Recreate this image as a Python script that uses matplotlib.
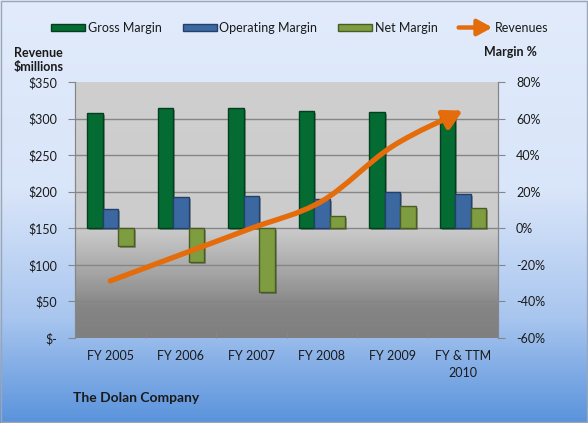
import matplotlib
matplotlib.use("Agg")
from matplotlib import pyplot as plt
from matplotlib.colors import LinearSegmentedColormap
from matplotlib.patches import Patch, FancyArrowPatch, Rectangle
from matplotlib.legend_handler import HandlerBase
from matplotlib.lines import Line2D
from matplotlib.path import Path
import matplotlib.patheffects as pe
import numpy as np

plt.rcParams['font.family'] = ['Lato', 'DejaVu Sans']

categories = ['FY 2005', 'FY 2006', 'FY 2007', 'FY 2008', 'FY 2009', 'FY & TTM\n2010']
gross_margin = [63, 66, 66, 64, 63.5, 61]
operating_margin = [10.5, 17, 17.5, 16, 20, 19]
net_margin = [-9.5, -18.5, -35, 7, 12, 11]
revenues = [78, 114, 150, 187, 262, 311]

margin_ticks = [-60, -40, -20, 0, 20, 40, 60, 80]
margin_labels = ['-60%', '-40%', '-20%', '0%', '20%', '40%', '60%', '80%']
rev_ticks = [0, 50, 100, 150, 200, 250, 300, 350]
rev_labels = ['$-', '$50', '$100', '$150', '$200', '$250', '$300', '$350']

GREEN, GREEN_E = '#046B32', '#033F1E'
BLUE, BLUE_E = '#3B68A1', '#22406A'
OLIVE, OLIVE_E = '#7E9C40', '#4A5C25'
ORANGE = '#E46C0A'
GRID = '#868686'
TXT = '#1a1a1a'


class ArrowHandler(HandlerBase):
    def create_artists(self, legend, orig_handle, xdescent, ydescent,
                       width, height, fontsize, trans):
        y = height / 2 - ydescent
        a = FancyArrowPatch((-xdescent, y), (width - xdescent, y),
                            arrowstyle='-|>,head_length=0.55,head_width=0.3',
                            mutation_scale=16, color=ORANGE, lw=3.2,
                            shrinkA=0, shrinkB=0)
        a.set_transform(trans)
        return [a]


def smooth_path(xs, ys):
    # Excel-like smoothed line: cubic Bezier through every point
    pts = np.column_stack([xs, ys]).astype(float)
    n = len(pts)
    verts = [pts[0]]
    codes = [Path.MOVETO]
    for i in range(n - 1):
        p_prev = pts[max(i - 1, 0)]
        p_next2 = pts[min(i + 2, n - 1)]
        c1 = pts[i] + (pts[i + 1] - p_prev) / 6
        c2 = pts[i + 1] - (p_next2 - pts[i]) / 6
        verts += [c1, c2, pts[i + 1]]
        codes += [Path.CURVE4] * 3
    return Path(verts, codes)


fig = plt.figure(figsize=(5.88, 4.23), dpi=100)

# figure background gradient
bg = fig.add_axes([0, 0, 1, 1], zorder=-10)
bg_cmap = LinearSegmentedColormap.from_list(
    'bg', [(0, '#E1EBFB'), (0.45, '#D9E5F9'), (0.75, '#A9C6EF'), (1.0, '#5A93DC')])
bg.imshow(np.linspace(0, 1, 256).reshape(-1, 1), aspect='auto', cmap=bg_cmap,
          extent=[0, 1, 0, 1], origin='upper')
bg.set_axis_off()
fig.patches.append(Rectangle((0.002, 0.002), 0.996, 0.996, transform=fig.transFigure,
                             fill=False, edgecolor='#9AA5B5', lw=1))

ax = fig.add_axes([0.1276, 0.201, 0.7194, 0.605])
ax2 = ax.twinx()

# plot area gradient
pa_cmap = LinearSegmentedColormap.from_list(
    'pa', [(0, '#CFCFCF'), (0.57, '#CCCCCC'), (0.72, '#ABABAB'), (0.88, '#858585'), (1.0, '#7F7F7F')])
ax.imshow(np.linspace(0, 1, 256).reshape(-1, 1), aspect='auto', cmap=pa_cmap,
          extent=[0, 1, 0, 1], origin='upper', transform=ax.transAxes, zorder=0)

x = np.arange(len(categories))
w = 0.22
shadow = [pe.withSimplePatchShadow(offset=(1.5, -1.5), alpha=0.35)]
ax.bar(x - w, gross_margin, w, color=GREEN, edgecolor=GREEN_E, lw=1, zorder=2, path_effects=shadow)
ax.bar(x, operating_margin, w, color=BLUE, edgecolor=BLUE_E, lw=1, zorder=2, path_effects=shadow)
ax.bar(x + w, net_margin, w, color=OLIVE, edgecolor=OLIVE_E, lw=1, zorder=2, path_effects=shadow)

ax.set_xlim(-0.5, len(categories) - 0.5)
ax.set_ylim(-60, 80)
ax.set_yticks(margin_ticks)
ax.set_yticklabels(margin_labels)
ax.yaxis.tick_right()
for t in margin_ticks[1:-1]:
    ax.axhline(t, color=GRID, lw=1, zorder=1)

ax.set_xticks(x)
ax.set_xticklabels(categories, linespacing=1.45)
ax.set_xticks(np.arange(-0.5, len(categories)), minor=True)
ax.tick_params(axis='x', which='major', length=0, pad=9, labelsize=9, colors=TXT)
ax.tick_params(axis='x', which='minor', length=4, color=GRID, direction='in')
ax.tick_params(axis='y', length=5, color=GRID, labelsize=9, colors=TXT, pad=8)

ax2.set_ylim(0, 350)
rev_line = FancyArrowPatch(path=smooth_path(x, revenues),
                           arrowstyle='-|>,head_length=0.55,head_width=0.3',
                           mutation_scale=20, color=ORANGE, lw=3.8,
                           capstyle='round', transform=ax2.transData, zorder=3)
ax2.add_patch(rev_line)
ax2.set_yticks(rev_ticks)
ax2.set_yticklabels(rev_labels)
ax2.yaxis.tick_left()
ax2.tick_params(axis='y', length=5, color=GRID, labelsize=9, colors=TXT, pad=8)

for a in (ax, ax2):
    a.spines['top'].set_visible(False)
    a.spines['bottom'].set_visible(False)
    for s in ('left', 'right'):
        a.spines[s].set_color(GRID)

handles = [Patch(facecolor=GREEN, edgecolor=GREEN_E),
           Patch(facecolor=BLUE, edgecolor=BLUE_E),
           Patch(facecolor=OLIVE, edgecolor=OLIVE_E),
           Line2D([], [], color=ORANGE)]
labels = ['Gross Margin', 'Operating Margin', 'Net Margin', 'Revenues']
leg = fig.legend(handles, labels, loc='center', bbox_to_anchor=(0.51, 0.934), ncol=4,
                 frameon=False, fontsize=9, handlelength=2.7, handleheight=0.6,
                 handletextpad=0.2, columnspacing=1.7,
                 handler_map={Line2D: ArrowHandler()})
for t in leg.get_texts():
    t.set_color(TXT)

fig.text(14 / 588, 1 - 60 / 423, 'Revenue\n$millions', ha='left', va='center',
         fontsize=9, fontweight='bold', color=TXT, linespacing=1.15)
fig.text(484 / 588, 1 - 52 / 423, 'Margin %', ha='left', va='center',
         fontsize=9, fontweight='bold', color=TXT)
fig.text(73 / 588, 1 - 398 / 423, 'The Dolan Company', ha='left', va='center',
         fontsize=10, fontweight='bold', color=TXT)

fig.savefig('out.png', dpi=100)
